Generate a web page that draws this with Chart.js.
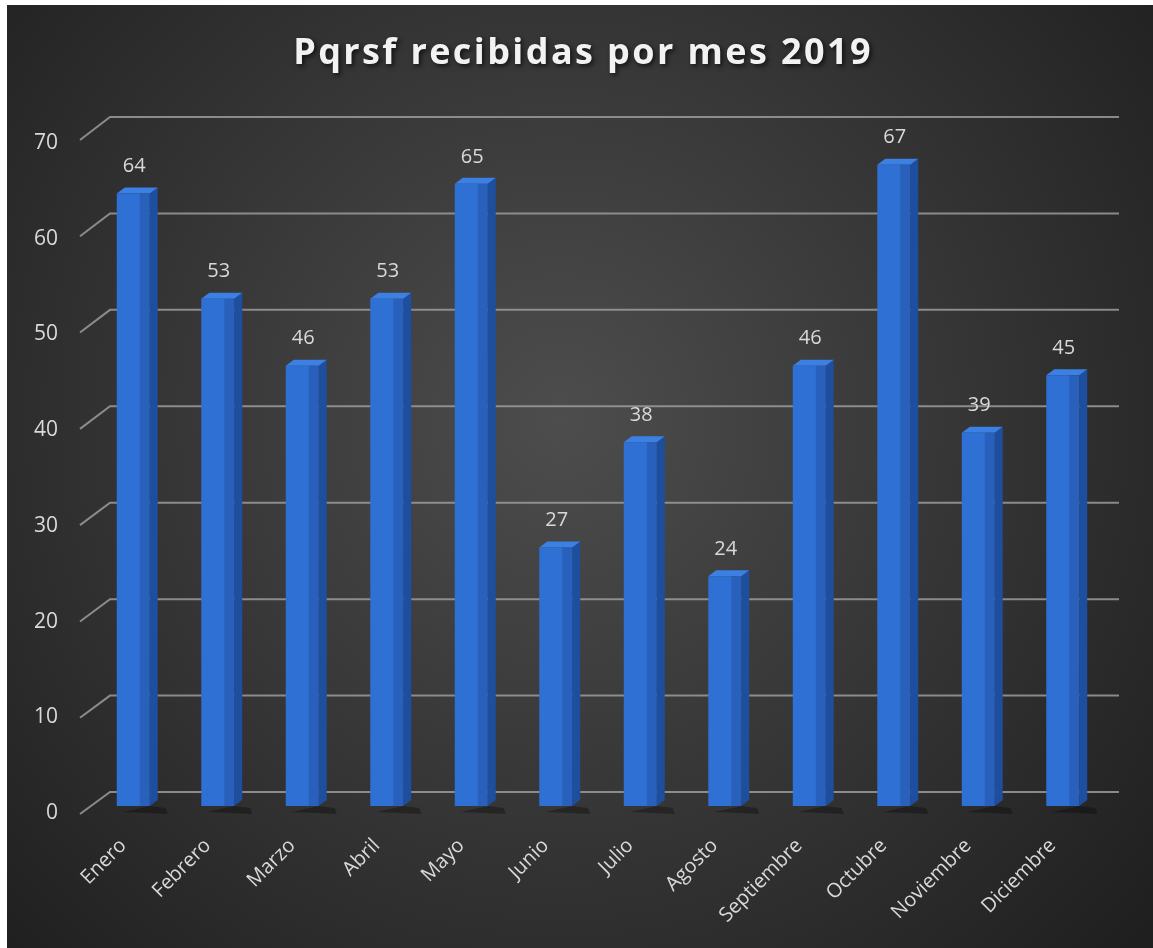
<!DOCTYPE html>
<html>
<head>
<meta charset="utf-8">
<script src="https://cdn.jsdelivr.net/npm/chart.js@4.4.0/dist/chart.umd.min.js"></script>
<style>
body{margin:0;background:#fff;}
canvas{display:block;}
</style>
</head>
<body>
<canvas id="pqrsfChart" width="1153" height="948"></canvas>
<script>
const titulo = "Pqrsf recibidas por mes 2019";
const meses = ["Enero","Febrero","Marzo","Abril","Mayo","Junio","Julio","Agosto","Septiembre","Octubre","Noviembre","Diciembre"];
const pqrsf = [64,53,46,53,65,27,38,24,46,67,39,45];
const yTicks = [0,10,20,30,40,50,60,70];

// fondo oscuro con borde blanco arriba/izquierda + titulo
const fondo = {
id:'fondo',
beforeDraw(chart){
const ctx = chart.ctx;
ctx.save();
ctx.fillStyle = '#fff';
ctx.fillRect(0,0,chart.width,chart.height);
const g = ctx.createRadialGradient(560,420,0,560,420,780);
g.addColorStop(0,'#4d4d4d');
g.addColorStop(1,'#1f1f1f');
ctx.fillStyle = g;
ctx.fillRect(7,5,chart.width-7,chart.height-5);
ctx.restore();
},
afterDraw(chart){
const ctx = chart.ctx;
ctx.save();
ctx.font = 'bold 36px "Open Sans"';
ctx.letterSpacing = '2.4px';
ctx.textAlign = 'center';
ctx.textBaseline = 'alphabetic';
ctx.shadowColor = 'rgba(0,0,0,0.7)';
ctx.shadowBlur = 5;
ctx.shadowOffsetX = 2;
ctx.shadowOffsetY = 2;
ctx.fillStyle = '#f2f2f2';
ctx.fillText(titulo, 583, 64);
ctx.restore();
}
};

// rejilla en pared de fondo + caras laterales de barras
const barras3d = {
id:'barras3d',
beforeDatasetsDraw(chart){
const ctx = chart.ctx, y = chart.scales.y, area = chart.chartArea;
ctx.save();
ctx.strokeStyle = 'rgba(155,155,155,0.85)';
ctx.lineWidth = 2;
yTicks.forEach(v => {
const py = y.getPixelForValue(v);
const back = py - 14 - 5*v/70;
const front = py + 8 - 4*v/70;
ctx.beginPath();
ctx.moveTo(area.left-11, front);
ctx.lineTo(area.left+19, back);
ctx.lineTo(area.right+14, back);
ctx.stroke();
});

const dx = 8, dy = -6;
chart.getDatasetMeta(0).data.forEach(bar => {
const l = bar.x - bar.width/2, r = bar.x + bar.width/2;
// sombra en el piso
ctx.fillStyle = 'rgba(0,0,0,0.3)';
ctx.beginPath();
ctx.moveTo(r, bar.base);
ctx.lineTo(r+16, bar.base+2);
ctx.lineTo(r+18, bar.base+8);
ctx.lineTo(l+6, bar.base+6);
ctx.closePath();
ctx.fill();
// lado
ctx.fillStyle = '#1d4f9e';
ctx.beginPath();
ctx.moveTo(r, bar.y);
ctx.lineTo(r+dx, bar.y+dy);
ctx.lineTo(r+dx, bar.base+dy);
ctx.lineTo(r, bar.base);
ctx.closePath();
ctx.fill();
// tapa
ctx.fillStyle = '#3b80e2';
ctx.beginPath();
ctx.moveTo(l, bar.y);
ctx.lineTo(l+dx, bar.y+dy);
ctx.lineTo(r+dx, bar.y+dy);
ctx.lineTo(r, bar.y);
ctx.closePath();
ctx.fill();
});
ctx.restore();
},
afterDatasetsDraw(chart){
const ctx = chart.ctx;
ctx.save();
chart.getDatasetMeta(0).data.forEach((bar,i) => {
const r = bar.x + bar.width/2;
ctx.fillStyle = 'rgba(0,10,50,0.15)';
ctx.fillRect(r - bar.width*0.3, bar.y, bar.width*0.3, bar.base - bar.y);
ctx.fillStyle = '#d9d9d9';
ctx.font = '20px "Open Sans"';
ctx.textAlign = 'center';
ctx.textBaseline = 'middle';
ctx.fillText(pqrsf[i], bar.x + 1, bar.y - 27);
});
ctx.restore();
}
};

new Chart(document.getElementById('pqrsfChart'),{
type:'bar',
data:{
labels:meses,
datasets:[{
data:pqrsf,
backgroundColor:'#2f70d4',
barPercentage:0.39,
categoryPercentage:1
}]
},
options:{
responsive:false,
animation:false,
layout:{ padding:{ left:20, right:48, top:136, bottom:0 } },
plugins:{
legend:{ display:false },
tooltip:{ enabled:false },
title:{ display:false }
},
scales:{
y:{
min:0, max:70,
ticks:{ stepSize:10, color:'#d9d9d9', font:{ family:'Open Sans', size:21 }, padding:25, labelOffset:7 },
grid:{ display:false },
border:{ display:false },
afterFit(s){ s.width = 71; }
},
x:{
ticks:{ color:'#d9d9d9', font:{ family:'Open Sans', size:20 }, maxRotation:45, minRotation:45, padding:20, labelOffset:-10 },
grid:{ display:false },
border:{ display:false },
afterFit(s){ s.height = 142; }
}
}
},
plugins:[fondo,barras3d]
});
</script>
</body>
</html>
